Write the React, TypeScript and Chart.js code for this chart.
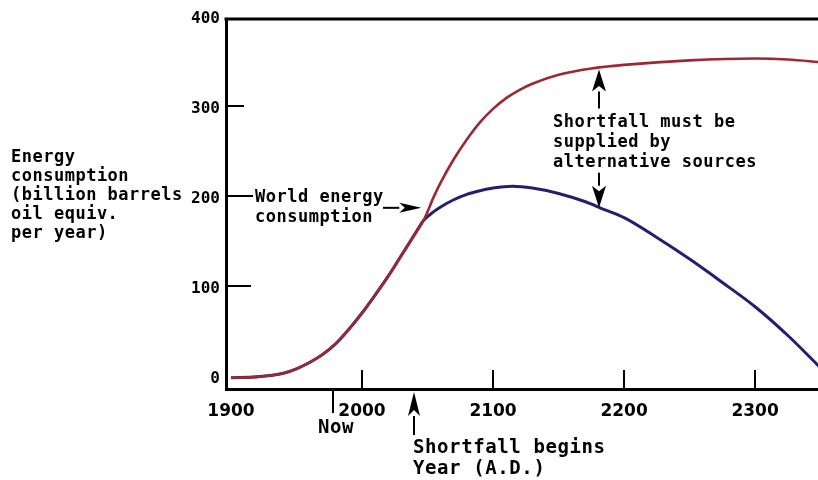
import React, { useEffect, useRef } from 'react';
import { Chart, registerables } from 'chart.js';

Chart.register(...registerables);

// ---- data ----
const sharedYears = [1900, 1920, 1940, 1950, 1960, 1970, 1980, 1990, 2000, 2010, 2020, 2030, 2040, 2047];
const sharedValues = [1, 2, 6, 11, 18, 27, 39, 55, 73, 93, 114, 137, 160, 176];

const demandYears = [2055, 2060, 2070, 2080, 2090, 2100, 2110, 2120, 2130, 2150, 2175, 2200, 2250, 2300, 2325, 2350];
const demandValues = [203, 218, 244, 266, 285, 300, 312, 321, 328, 338, 345, 349, 354, 356, 355, 352];

const supplyYears = [2055, 2060, 2070, 2080, 2090, 2100, 2115, 2130, 2150, 2170, 2185, 2200, 2225, 2250, 2275, 2300, 2325, 2350];
const supplyValues = [186, 191, 199, 205, 209, 212, 214, 212, 206, 197, 188, 179, 157, 133, 107, 80, 48, 12];

const xTickValues = [1900, 2000, 2100, 2200, 2300];
const yTickValues = [0, 100, 200, 300, 400];

const nowYear = 1978;
const shortfallYear = 2040;
const gapYear = 2181;

const yAxisTitle = ['Energy', 'consumption', '(billion barrels', 'oil equiv.', 'per year)'];
const worldLabel = ['World energy', 'consumption'];
const gapLabel = ['Shortfall must be', 'supplied by', 'alternative sources'];
const shortfallLabel = ['Shortfall begins', 'Year (A.D.)'];
const nowLabel = 'Now';

const MONO = '"DejaVu Sans Mono", "Liberation Mono", monospace';
const RED = '#9b2832';
const BLUE = '#22206e';

function toPoints(xs: number[], ys: number[]) {
  return xs.map((v, i) => ({ x: v, y: ys[i] }));
}

function drawArrow(ctx: CanvasRenderingContext2D, x1: number, y1: number, x2: number, y2: number, headLen: number, headHalf: number) {
  const ang = Math.atan2(y2 - y1, x2 - x1);
  const bx = x2 - Math.cos(ang) * headLen;
  const by = y2 - Math.sin(ang) * headLen;
  ctx.beginPath();
  ctx.moveTo(x1, y1);
  ctx.lineTo(bx, by);
  ctx.stroke();
  const nx = -Math.sin(ang);
  const ny = Math.cos(ang);
  ctx.beginPath();
  ctx.moveTo(x2, y2);
  ctx.lineTo(bx + nx * headHalf, by + ny * headHalf);
  ctx.lineTo(x2 - Math.cos(ang) * headLen * 0.75, y2 - Math.sin(ang) * headLen * 0.75);
  ctx.lineTo(bx - nx * headHalf, by - ny * headHalf);
  ctx.closePath();
  ctx.fill();
}

const annotationPlugin = {
  id: 'annotations',
  afterDraw(chart: any) {
    const { ctx, chartArea, scales } = chart;
    const { left, top, right, bottom } = chartArea;
    const xs = scales.x;
    const ys = scales.y;
    ctx.save();
    ctx.strokeStyle = '#000';
    ctx.fillStyle = '#000';

    // top frame line
    ctx.lineWidth = 3;
    ctx.beginPath();
    ctx.moveTo(left - 1.5, top);
    ctx.lineTo(right, top);
    ctx.stroke();

    // inward tick marks on x axis
    ctx.lineWidth = 2;
    xTickValues.slice(1).forEach((v) => {
      const px = Math.round(xs.getPixelForValue(v));
      ctx.beginPath();
      ctx.moveTo(px, bottom);
      ctx.lineTo(px, bottom - 19);
      ctx.stroke();
    });
    // inward tick marks on y axis
    const yTickLen: Record<number, number> = { 100: 25, 200: 27, 300: 18 };
    [100, 200, 300].forEach((v) => {
      const py = Math.round(ys.getPixelForValue(v)) - 3;
      ctx.beginPath();
      ctx.moveTo(left, py);
      ctx.lineTo(left + yTickLen[v], py);
      ctx.stroke();
    });

    // "Now" marker
    const nx = Math.round(xs.getPixelForValue(nowYear));
    ctx.beginPath();
    ctx.moveTo(nx, bottom);
    ctx.lineTo(nx, bottom + 24);
    ctx.stroke();

    ctx.textBaseline = 'alphabetic';
    (ctx as any).letterSpacing = '0.5px';

    // y axis title
    ctx.font = `bold 17px ${MONO}`;
    ctx.textAlign = 'left';
    yAxisTitle.forEach((t, i) => ctx.fillText(t, 11, 162 + i * 19));

    // World energy consumption label
    const wy = ys.getPixelForValue(200) - 3;
    ctx.fillText(worldLabel[0], left + 29, wy + 6);
    ctx.fillText(worldLabel[1], left + 29, wy + 26);
    const tipX = xs.getPixelForValue(2046);
    const arrowY = ys.getPixelForValue(190);
    ctx.lineWidth = 2;
    drawArrow(ctx, left + 157, arrowY, tipX - 1, arrowY, 22, 5);

    // Shortfall gap arrows and label
    const gx = Math.round(xs.getPixelForValue(gapYear));
    const redY = ys.getPixelForValue(345);
    const blueY = ys.getPixelForValue(189);
    drawArrow(ctx, gx, redY + 40, gx, redY + 1, 22, 7);
    drawArrow(ctx, gx, blueY - 36, gx, blueY - 1, 22, 7);
    ctx.font = `bold 17px ${MONO}`;
    gapLabel.forEach((t, i) => ctx.fillText(t, gx - 46, redY + 59 + i * 20));

    // Shortfall begins arrow and label
    const sx = Math.round(xs.getPixelForValue(shortfallYear));
    drawArrow(ctx, sx, bottom + 46, sx, bottom + 3, 24, 6);
    ctx.font = `bold 19px ${MONO}`;
    (ctx as any).letterSpacing = '0.6px';
    ctx.fillText(shortfallLabel[0], sx - 1, 453);
    ctx.fillText(shortfallLabel[1], sx - 1, 474);

    // Now label
    ctx.textAlign = 'center';
    ctx.fillText(nowLabel, nx + 3, 433);

    ctx.restore();
  },
};

export default function App() {
  const ref = useRef<HTMLCanvasElement>(null);

  useEffect(() => {
    const canvas = ref.current;
    if (!canvas) return;
    const chart = new Chart(canvas, {
      type: 'line',
      data: {
        datasets: [
          {
            label: 'Demand',
            data: toPoints(sharedYears.concat(demandYears), sharedValues.concat(demandValues)),
            borderColor: RED,
            borderWidth: 2.6,
            pointRadius: 0,
            cubicInterpolationMode: 'monotone',
            fill: false,
          },
          {
            label: 'Supply',
            data: toPoints(sharedYears.concat(supplyYears), sharedValues.concat(supplyValues)),
            borderColor: BLUE,
            borderWidth: 3,
            pointRadius: 0,
            cubicInterpolationMode: 'monotone',
            fill: false,
          },
        ],
      },
      options: {
        responsive: false,
        animation: false,
        devicePixelRatio: 1,
        layout: { padding: { top: 19, right: 0, left: 0, bottom: 0 } },
        plugins: {
          legend: { display: false },
          tooltip: { enabled: false },
          title: { display: false },
        },
        scales: {
          x: {
            type: 'linear',
            min: 1896.2,
            max: 2348,
            grid: { display: false, drawTicks: false },
            border: { display: true, color: '#000', width: 3 },
            afterBuildTicks: (scale: any) => {
              scale.ticks = xTickValues.map((v) => ({ value: v }));
            },
            afterFit: (scale: any) => {
              scale.height = 91;
            },
            ticks: {
              autoSkip: false,
              maxRotation: 0,
              padding: 12,
              color: '#000',
              font: { family: '"DejaVu Sans", sans-serif', weight: 'bold', size: 17 },
              callback: (v: any) => String(v),
            },
          },
          y: {
            type: 'linear',
            min: -11.5,
            max: 400,
            grid: { display: false, drawTicks: false },
            border: { display: true, color: '#000', width: 3 },
            afterBuildTicks: (scale: any) => {
              scale.ticks = yTickValues.map((v) => ({ value: v }));
            },
            afterFit: (scale: any) => {
              scale.width = 226;
            },
            ticks: {
              autoSkip: false,
              padding: 6,
              color: '#000',
              font: { family: MONO, weight: 'bold', size: 16 },
              callback: (v: any) => String(v),
            },
          },
        },
      },
      plugins: [annotationPlugin],
    } as any);
    return () => chart.destroy();
  }, []);

  return (
    <div style={{ position: 'absolute', left: 0, top: 0, width: 818, height: 480, background: '#fff', overflow: 'hidden' }}>
      <canvas ref={ref} width={818} height={480} style={{ display: 'block', width: 818, height: 480 }} />
    </div>
  );
}
